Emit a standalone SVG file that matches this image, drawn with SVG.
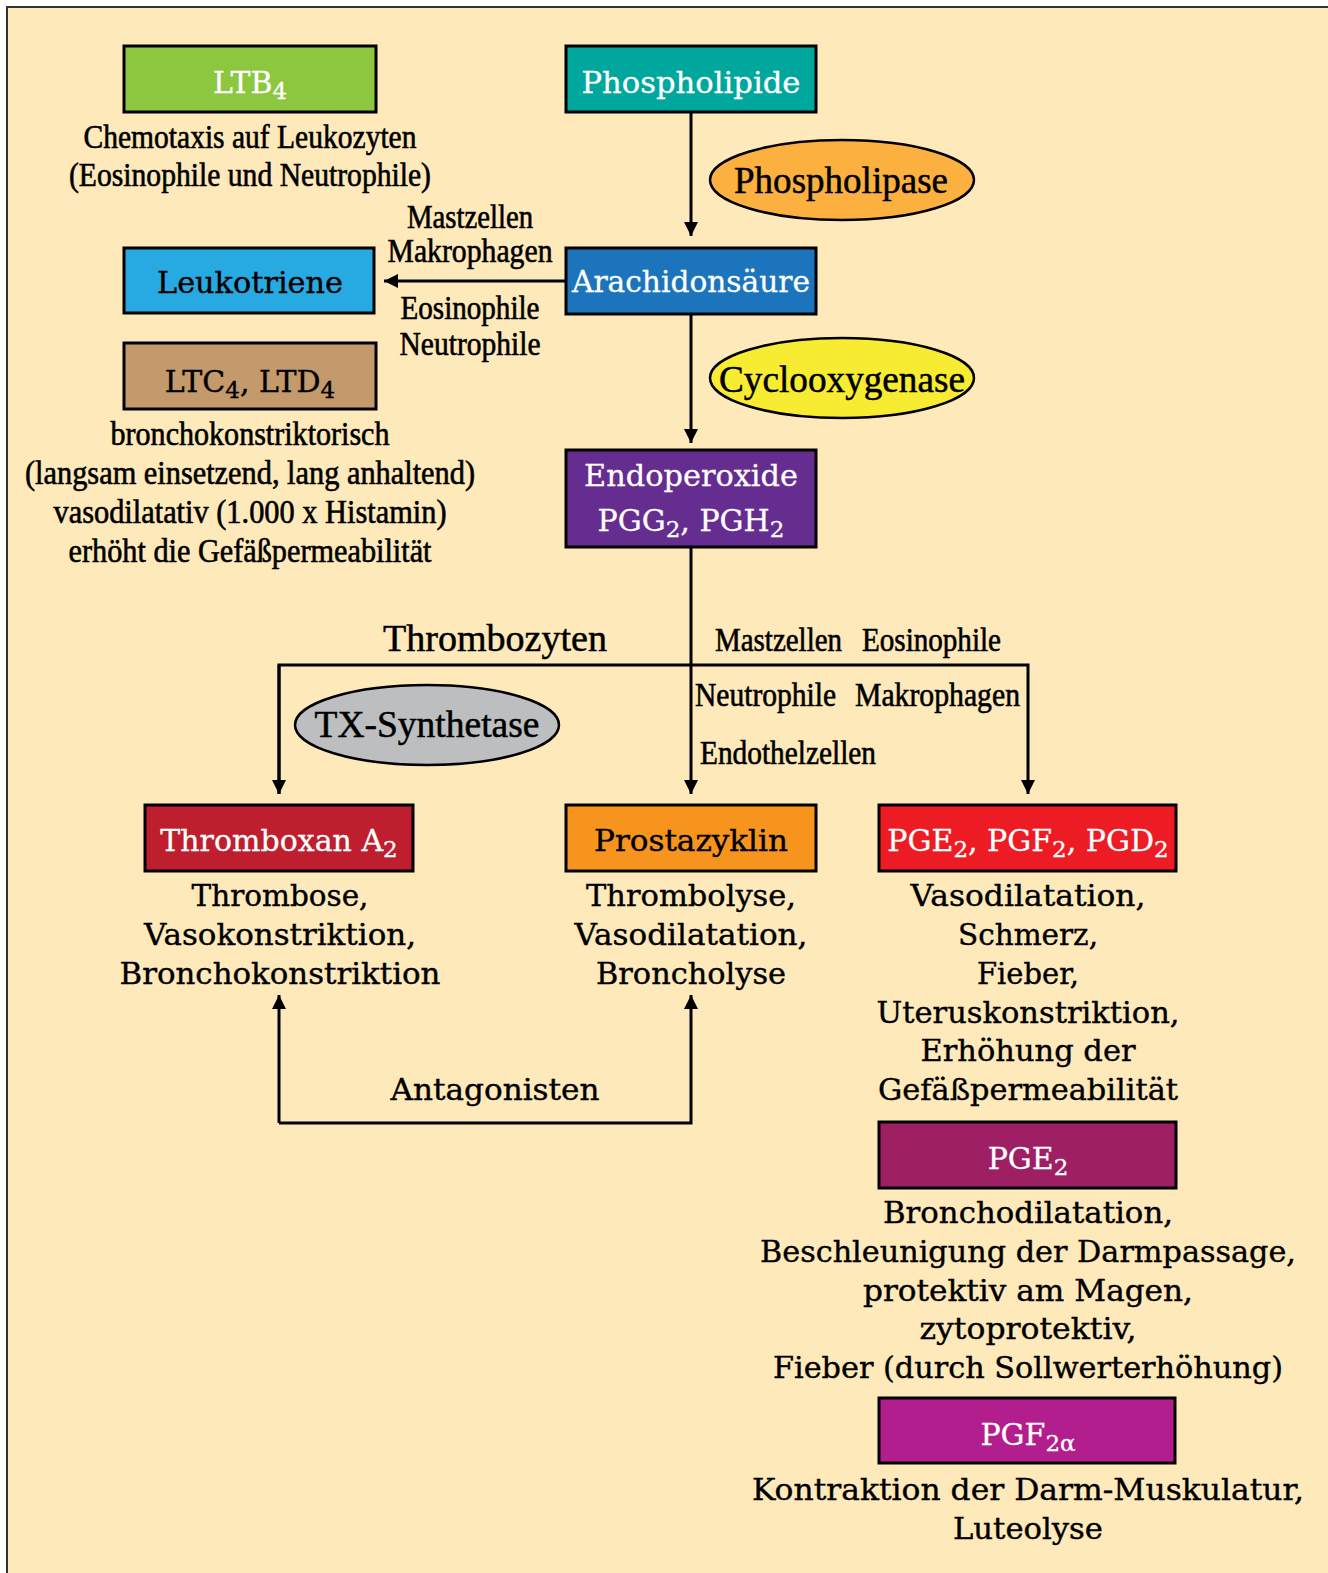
<svg xmlns="http://www.w3.org/2000/svg" width="1328" height="1573" viewBox="0 0 1328 1573">
<defs>
<style>
.box{stroke:#000;stroke-width:3}
.ell{stroke:#000;stroke-width:2.5}
.m{font-family:"DejaVu Serif",serif;font-size:30px;text-anchor:middle;fill:#000;stroke:#000;stroke-width:0.4}
.c{font-family:"Liberation Serif",serif;font-size:33px;text-anchor:middle;fill:#000;stroke:#000;stroke-width:0.6}
.e{font-family:"Liberation Serif",serif;font-size:37px;text-anchor:middle;fill:#000;stroke:#000;stroke-width:0.5}
.s{text-anchor:start}
.w{fill:#fff;stroke:#fff;stroke-width:0.3}
.sub{font-size:23px}
.conn{stroke:#000;stroke-width:3;fill:none}
</style>
<marker id="ah" markerUnits="userSpaceOnUse" markerWidth="15" markerHeight="14" refX="14" refY="7" orient="auto" viewBox="0 0 15 14">
<path d="M0,0 L14,7 L0,14 z" fill="#000"/>
</marker>
</defs>
<rect x="7" y="7" width="1330" height="1580" fill="#FEE9BA" stroke="#333" stroke-width="2"/>

<g id="connectors">
<path class="conn" d="M691,112 V236" marker-end="url(#ah)"/>
<path class="conn" d="M566,281 H384" marker-end="url(#ah)"/>
<path class="conn" d="M691,314 V443" marker-end="url(#ah)"/>
<path class="conn" d="M691,547 V794" marker-end="url(#ah)"/>
<path class="conn" d="M279,794 V665 H1028 V794" marker-end="url(#ah)"/>
<path class="conn" d="M279,665 V794" marker-end="url(#ah)"/>
<path class="conn" d="M279,1123 V995" marker-end="url(#ah)"/>
<path class="conn" d="M279,1123 H691 V995" marker-end="url(#ah)"/>
</g>

<g id="ltb4">
<rect class="box" x="124" y="46" width="252" height="66" fill="#8DC63F"/>
<text class="m w" x="250" y="93">LTB<tspan class="sub" dy="6">4</tspan></text>
<text class="c" x="250" y="148" textLength="333" lengthAdjust="spacingAndGlyphs">Chemotaxis auf Leukozyten</text>
<text class="c" x="250" y="186" textLength="362" lengthAdjust="spacingAndGlyphs">(Eosinophile und Neutrophile)</text>
</g>

<g id="phospholipide">
<rect class="box" x="566" y="46" width="250" height="66" fill="#00A79D"/>
<text class="m w" x="691" y="93" textLength="219" lengthAdjust="spacingAndGlyphs">Phospholipide</text>
</g>

<g id="phospholipase">
<ellipse class="ell" cx="842" cy="180" rx="132" ry="40" fill="#FBB040"/>
<text class="e" x="841" y="193" textLength="214" lengthAdjust="spacingAndGlyphs">Phospholipase</text>
</g>

<g id="leukotriene">
<rect class="box" x="124" y="248" width="250" height="65" fill="#27AAE1"/>
<text class="m" x="250" y="293" textLength="186" lengthAdjust="spacingAndGlyphs">Leukotriene</text>
</g>

<g id="leuko-labels">
<text class="c" x="470" y="228" textLength="126" lengthAdjust="spacingAndGlyphs">Mastzellen</text>
<text class="c" x="470" y="262" textLength="165" lengthAdjust="spacingAndGlyphs">Makrophagen</text>
<text class="c" x="470" y="319" textLength="139" lengthAdjust="spacingAndGlyphs">Eosinophile</text>
<text class="c" x="470" y="355" textLength="141" lengthAdjust="spacingAndGlyphs">Neutrophile</text>
</g>

<g id="arachidonsaeure">
<rect class="box" x="566" y="248" width="250" height="66" fill="#1C75BC"/>
<text class="m w" x="691" y="292" textLength="238" lengthAdjust="spacingAndGlyphs">Arachidonsäure</text>
</g>

<g id="ltc4">
<rect class="box" x="124" y="343" width="252" height="66" fill="#C49A6C"/>
<text class="m" x="250" y="392">LTC<tspan class="sub" dy="6">4</tspan><tspan dy="-6">, LTD</tspan><tspan class="sub" dy="6">4</tspan></text>
<text class="c" x="250" y="445" textLength="279" lengthAdjust="spacingAndGlyphs">bronchokonstriktorisch</text>
<text class="c" x="250" y="484" textLength="450" lengthAdjust="spacingAndGlyphs">(langsam einsetzend, lang anhaltend)</text>
<text class="c" x="250" y="523" textLength="393" lengthAdjust="spacingAndGlyphs">vasodilatativ (1.000 x Histamin)</text>
<text class="c" x="250" y="562" textLength="363" lengthAdjust="spacingAndGlyphs">erhöht die Gefäßpermeabilität</text>
</g>

<g id="cyclooxygenase">
<ellipse class="ell" cx="842" cy="378" rx="132" ry="40" fill="#F7EC31"/>
<text class="e" x="842" y="392" textLength="246" lengthAdjust="spacingAndGlyphs">Cyclooxygenase</text>
</g>

<g id="endoperoxide">
<rect class="box" x="566" y="450" width="250" height="97" fill="#662D91"/>
<text class="m w" x="691" y="486" textLength="214" lengthAdjust="spacingAndGlyphs">Endoperoxide</text>
<text class="m w" x="691" y="531">PGG<tspan class="sub" dy="6">2</tspan><tspan dy="-6">, PGH</tspan><tspan class="sub" dy="6">2</tspan></text>
</g>

<g id="branch-labels">
<text class="e" x="495" y="651" textLength="224" lengthAdjust="spacingAndGlyphs">Thrombozyten</text>
<text class="c s" x="715" y="651" textLength="127" lengthAdjust="spacingAndGlyphs">Mastzellen</text>
<text class="c s" x="862" y="651" textLength="139" lengthAdjust="spacingAndGlyphs">Eosinophile</text>
<text class="c s" x="695" y="706" textLength="141" lengthAdjust="spacingAndGlyphs">Neutrophile</text>
<text class="c s" x="855" y="706" textLength="165" lengthAdjust="spacingAndGlyphs">Makrophagen</text>
<text class="c s" x="700" y="764" textLength="176" lengthAdjust="spacingAndGlyphs">Endothelzellen</text>
</g>

<g id="tx-synthetase">
<ellipse class="ell" cx="427" cy="725" rx="132" ry="40" fill="#BCBEC0"/>
<text class="e" x="427" y="737" textLength="225" lengthAdjust="spacingAndGlyphs">TX-Synthetase</text>
</g>

<g id="thromboxan">
<rect class="box" x="145" y="805" width="268" height="66" fill="#BE1E2D"/>
<text class="m w" x="279" y="851">Thromboxan A<tspan class="sub" dy="6">2</tspan></text>
<text class="m" x="280" y="906" textLength="177" lengthAdjust="spacingAndGlyphs">Thrombose,</text>
<text class="m" x="280" y="945" textLength="272" lengthAdjust="spacingAndGlyphs">Vasokonstriktion,</text>
<text class="m" x="280" y="984" textLength="321" lengthAdjust="spacingAndGlyphs">Bronchokonstriktion</text>
</g>

<g id="prostazyklin">
<rect class="box" x="566" y="805" width="250" height="66" fill="#F7941D"/>
<text class="m" x="691" y="851" textLength="194" lengthAdjust="spacingAndGlyphs">Prostazyklin</text>
<text class="m" x="691" y="906" textLength="210" lengthAdjust="spacingAndGlyphs">Thrombolyse,</text>
<text class="m" x="691" y="945" textLength="233" lengthAdjust="spacingAndGlyphs">Vasodilatation,</text>
<text class="m" x="691" y="984" textLength="190" lengthAdjust="spacingAndGlyphs">Broncholyse</text>
</g>

<g id="antagonisten-label">
<text class="m" x="495" y="1100" textLength="209" lengthAdjust="spacingAndGlyphs">Antagonisten</text>
</g>

<g id="pge-pgf-pgd">
<rect class="box" x="879" y="805" width="297" height="66" fill="#ED1C24"/>
<text class="m w" x="1028" y="851">PGE<tspan class="sub" dy="6">2</tspan><tspan dy="-6">, PGF</tspan><tspan class="sub" dy="6">2</tspan><tspan dy="-6">, PGD</tspan><tspan class="sub" dy="6">2</tspan></text>
<text class="m" x="1028" y="906" textLength="235" lengthAdjust="spacingAndGlyphs">Vasodilatation,</text>
<text class="m" x="1028" y="945" textLength="140" lengthAdjust="spacingAndGlyphs">Schmerz,</text>
<text class="m" x="1028" y="984" textLength="102" lengthAdjust="spacingAndGlyphs">Fieber,</text>
<text class="m" x="1028" y="1023" textLength="303" lengthAdjust="spacingAndGlyphs">Uteruskonstriktion,</text>
<text class="m" x="1028" y="1061" textLength="215" lengthAdjust="spacingAndGlyphs">Erhöhung der</text>
<text class="m" x="1028" y="1100" textLength="300" lengthAdjust="spacingAndGlyphs">Gefäßpermeabilität</text>
</g>

<g id="pge2">
<rect class="box" x="879" y="1122" width="297" height="66" fill="#9E1F63"/>
<text class="m w" x="1028" y="1169">PGE<tspan class="sub" dy="6">2</tspan></text>
<text class="m" x="1028" y="1223" textLength="290" lengthAdjust="spacingAndGlyphs">Bronchodilatation,</text>
<text class="m" x="1028" y="1262" textLength="536" lengthAdjust="spacingAndGlyphs">Beschleunigung der Darmpassage,</text>
<text class="m" x="1028" y="1301" textLength="330" lengthAdjust="spacingAndGlyphs">protektiv am Magen,</text>
<text class="m" x="1028" y="1339" textLength="217" lengthAdjust="spacingAndGlyphs">zytoprotektiv,</text>
<text class="m" x="1028" y="1378" textLength="510" lengthAdjust="spacingAndGlyphs">Fieber (durch Sollwerterhöhung)</text>
</g>

<g id="pgf2a">
<rect class="box" x="879" y="1398" width="296" height="65" fill="#B31E8E"/>
<text class="m w" x="1028" y="1445">PGF<tspan class="sub" dy="6">2α</tspan></text>
<text class="m" x="1028" y="1500" textLength="552" lengthAdjust="spacingAndGlyphs">Kontraktion der Darm-Muskulatur,</text>
<text class="m" x="1028" y="1539" textLength="150" lengthAdjust="spacingAndGlyphs">Luteolyse</text>
</g>
</svg>
